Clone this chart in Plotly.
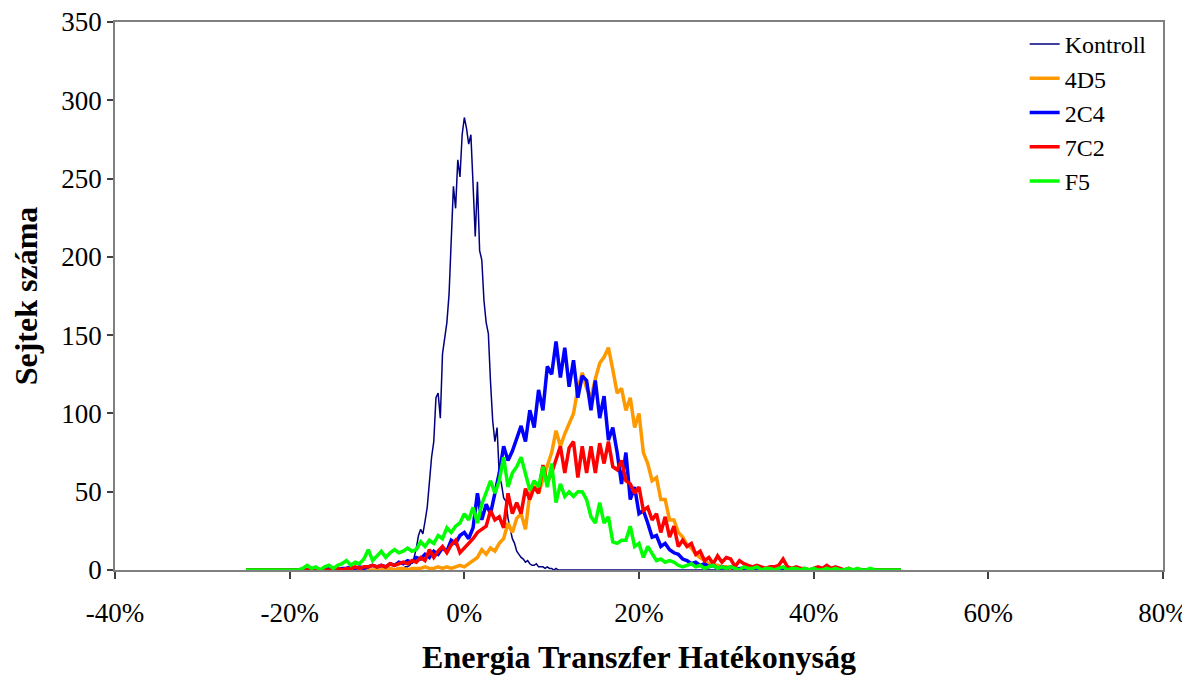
import plotly.graph_objects as go

# ---------------- data (bin counts) ----------------
# Kontroll: bins of 0.25 % starting at -25 %
kontroll_start = -25.0
kontroll_step = 0.25
kontroll = [0] * 68 + [
    0, 1, 1, 0, 1, 2, 2, 3, 5, 8,            # -8.00 .. -5.75
    14, 22, 26, 23, 31, 40, 56, 72, 82, 110,  # -5.50 .. -3.25
    113, 97, 138, 148, 158, 176, 212, 245, 231, 262,  # -3.00 .. -0.75
    251, 278, 289, 282, 272, 278, 246, 213, 248, 204,  # -0.50 .. 1.75
    198, 172, 158, 151, 120, 95, 82, 91, 60, 55,      # 2.00 .. 4.25
    46, 44, 33, 27, 20, 17, 12, 10, 8, 7,             # 4.50 .. 6.75
    5, 6, 4, 3, 3, 4, 2, 2, 2, 1,                     # 7.00 .. 9.25
    2, 1, 1, 0, 1, 0, 0,                              # 9.50 .. 11.00
] + [0] * 156

# Other series: bins of 0.5 % starting at -25 %
series_start = -25.0
series_step = 0.5

d4d5 = [0] * 30 + [
    0, 1, 0, 1, 0, 1, 1, 0, 1, 1,            # -10.0 .. -5.5
    1, 2, 1, 1, 2, 1, 2, 1, 2, 3,            # -5.0 .. -0.5
    2, 4, 6, 8, 13, 10, 14, 12, 17, 20,      # 0.0 .. 4.5
    30, 24, 33, 36, 26, 49, 53, 49, 58, 66,  # 5.0 .. 9.5
    75, 89, 79, 87, 94, 100, 116, 126, 116, 110,  # 10.0 .. 14.5
    122, 132, 136, 142, 128, 113, 116, 102, 110, 91,  # 15.0 .. 19.5
    100, 75, 68, 57, 59, 45, 45, 32, 32, 24,  # 20.0 .. 24.5
    21, 16, 14, 10, 8, 6, 4, 3, 3, 2,        # 25.0 .. 29.5
    2, 1, 1, 0, 1, 0, 1, 0, 0, 1,            # 30.0 .. 34.5
    0, 0, 1, 0, 0, 0, 1, 0, 0, 0,            # 35.0 .. 39.5
    0, 0, 0, 1, 0, 0, 0, 0, 0, 0,            # 40.0 .. 44.5
    0, 0, 0, 0, 0, 0, 0,                     # 45.0 .. 48.0
]

c2c4 = [0] * 14 + [
    0, 0, 1, 0, 0, 1, 1, 0, 1, 1,            # -18.0 .. -13.5
    2, 1, 2, 1, 2, 3, 2, 3, 2, 4,            # -13.0 .. -8.5
    3, 5, 4, 6, 5, 8, 7, 10, 8, 12,          # -8.0 .. -3.5
    10, 14, 12, 19, 17, 22, 24, 20, 27, 49,  # -3.0 .. 1.5
    32, 42, 36, 50, 62, 79, 70, 76, 84, 92,  # 2.0 .. 6.5
    82, 102, 91, 115, 102, 130, 125, 146, 123, 142,  # 7.0 .. 11.5
    117, 134, 110, 124, 121, 102, 121, 97, 111, 83,  # 12.0 .. 16.5
    91, 75, 55, 75, 45, 53, 36, 38, 30, 21,  # 17.0 .. 21.5
    22, 15, 17, 13, 11, 10, 7, 6, 4, 5,      # 22.0 .. 26.5
    3, 4, 2, 3, 1, 2, 1, 2, 0, 1,            # 27.0 .. 31.5
    1, 0, 1, 0, 1, 0, 0, 1, 0, 1,            # 32.0 .. 36.5
    0, 0, 1, 0, 0, 0, 0, 1, 0, 0,            # 37.0 .. 41.5
    0, 0, 0, 0, 0, 0, 0, 0, 0, 0,            # 42.0 .. 46.5
    0, 0, 0, 0, 0, 0, 0,                     # 47.0 .. 50.0
]

c7c2 = [0] * 20 + [
    0, 1, 0, 1, 1, 2, 1, 2, 2, 3,            # -15.0 .. -10.5
    2, 3, 2, 4, 3, 4, 5, 4, 6, 5,            # -10.0 .. -5.5
    8, 6, 13, 8, 12, 15, 11, 16, 19, 11,     # -5.0 .. -0.5
    14, 17, 20, 24, 26, 28, 38, 32, 34, 27,  # 0.0 .. 4.5
    49, 36, 43, 36, 52, 45, 53, 49, 67, 56,  # 5.0 .. 9.5
    62, 70, 79, 62, 78, 82, 59, 79, 62, 79,  # 10.0 .. 14.5
    62, 81, 68, 82, 66, 64, 70, 57, 55, 49,  # 15.0 .. 19.5
    53, 38, 40, 32, 36, 24, 34, 21, 28, 15,  # 20.0 .. 24.5
    19, 15, 17, 10, 12, 6, 8, 4, 9, 5,       # 25.0 .. 29.5
    8, 7, 2, 6, 4, 3, 2, 3, 2, 1,            # 30.0 .. 34.5
    2, 2, 3, 7, 2, 1, 2, 1, 1, 0,            # 35.0 .. 39.5
    1, 2, 1, 3, 1, 2, 1, 0, 1, 0,            # 40.0 .. 44.5
    0, 0, 0, 0, 0, 0, 0, 0, 0, 0, 0,         # 45.0 .. 50.0
]

f5 = [
    0, 0, 0, 0, 0, 0, 0, 0, 0, 0,            # -25.0 .. -20.5
    0, 0, 0, 1, 3, 1, 2, 0, 2, 3,            # -20.0 .. -15.5
    1, 3, 4, 6, 3, 5, 4, 7, 13, 6,           # -15.0 .. -10.5
    9, 12, 8, 11, 13, 11, 12, 14, 12, 13,    # -10.0 .. -5.5
    18, 15, 19, 17, 22, 20, 27, 24, 28, 30,  # -5.0 .. -0.5
    36, 32, 40, 30, 42, 49, 57, 49, 57, 72,  # 0.0 .. 4.5
    53, 62, 66, 72, 62, 51, 57, 53, 66, 53,  # 5.0 .. 9.5
    68, 43, 55, 47, 50, 47, 50, 50, 45, 34,  # 10.0 .. 14.5
    30, 43, 30, 34, 18, 17, 19, 19, 28, 15,  # 15.0 .. 19.5
    17, 8, 15, 10, 6, 7, 5, 6, 5, 3,         # 20.0 .. 24.5
    2, 3, 4, 2, 3, 1, 2, 3, 1, 2,            # 25.0 .. 29.5
    1, 2, 1, 0, 2, 1, 1, 2, 0, 1,            # 30.0 .. 34.5
    1, 0, 1, 2, 0, 1, 1, 0, 1, 0,            # 35.0 .. 39.5
    1, 0, 0, 1, 0, 1, 0, 0, 1, 0,            # 40.0 .. 44.5
    1, 0, 0, 1, 0, 0, 0, 0, 0, 0, 0,         # 45.0 .. 50.0
]

series_names = ["Kontroll", "4D5", "2C4", "7C2", "F5"]
series_values = [kontroll, d4d5, c2c4, c7c2, f5]
series_starts = [kontroll_start, series_start, series_start, series_start, series_start]
series_steps = [kontroll_step, series_step, series_step, series_step, series_step]
series_colors = ["#000080", "#FF9900", "#0000FF", "#FF0000", "#00FF00"]
series_widths = [1.5, 3.5, 3.5, 3.5, 3.5]

x_tick_vals = [-0.4, -0.2, 0.0, 0.2, 0.4, 0.6, 0.8]
x_tick_text = ["-40%", "-20%", "0%", "20%", "40%", "60%", "80%"]
y_tick_vals = [0, 50, 100, 150, 200, 250, 300, 350]

# ---------------- figure ----------------
fig = go.Figure()
for name, vals, start, step, color, width in zip(series_names, series_values, series_starts,
                                                  series_steps, series_colors, series_widths):
    xs = [(start + step * i) / 100.0 for i in range(len(vals))]
    fig.add_trace(go.Scatter(
        x=xs, y=vals, mode="lines", name=name, legendgroup=name,
        line=dict(color=color, width=width),
    ))

serif = "Liberation Serif, Times New Roman, serif"

# the page body adds an 8px offset, so the figure is sized to the remaining viewport
fig.update_layout(
    width=1182, height=667,
    margin=dict(l=107, r=27, t=14, b=105, autoexpand=False),
    paper_bgcolor="white", plot_bgcolor="white",
    font=dict(family=serif, size=24, color="black"),
    showlegend=True,
    legend=dict(
        x=0.868, y=1.0, xanchor="left", yanchor="top",
        bgcolor="rgba(255,255,255,0)", borderwidth=0,
        font=dict(family=serif, size=24, color="black"),
        itemwidth=30, tracegroupgap=5, traceorder="normal",
    ),
    xaxis=dict(
        range=[-0.4, 0.8], tickvals=x_tick_vals, ticktext=x_tick_text,
        showgrid=False, zeroline=False, automargin=False,
        showline=True, linecolor="#808080", linewidth=1.5, mirror=True,
        ticks="outside", ticklen=7, tickcolor="#404040", tickwidth=1.5,
        ticklabelstandoff=11, ticklabeloverflow="allow",
        tickfont=dict(family=serif, size=27, color="black"),
        title=dict(text="<b>Energia Transzfer Hatékonyság</b>",
                   font=dict(family=serif, size=32, color="black"), standoff=25),
    ),
    yaxis=dict(
        range=[0, 350], tickvals=y_tick_vals,
        showgrid=False, zeroline=False, automargin=False,
        showline=True, linecolor="#808080", linewidth=1.5, mirror=True,
        ticks="outside", ticklen=6, tickcolor="#404040", tickwidth=1.5,
        ticklabeloverflow="allow",
        tickfont=dict(family=serif, size=27, color="black"),
        title=dict(text="<b>Sejtek száma</b>",
                   font=dict(family=serif, size=32, color="black"), standoff=21),
    ),
)

fig.write_html("out.html")
